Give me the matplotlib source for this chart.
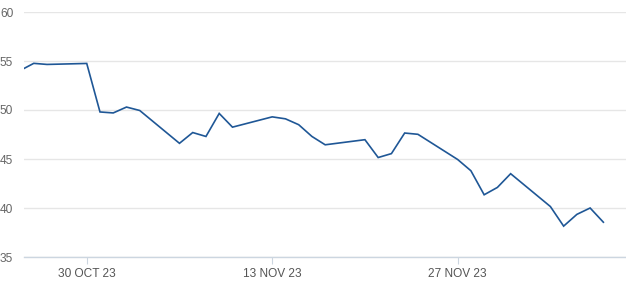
import matplotlib
matplotlib.use("Agg")
import matplotlib.pyplot as plt
import matplotlib.dates as mdates
import numpy as np
import pandas as pd

dates = ["2023-10-25", "2023-10-26", "2023-10-27", "2023-10-30", "2023-10-31",
         "2023-11-01", "2023-11-02", "2023-11-03", "2023-11-06", "2023-11-07",
         "2023-11-08", "2023-11-09", "2023-11-10", "2023-11-13", "2023-11-14",
         "2023-11-15", "2023-11-16", "2023-11-17", "2023-11-20", "2023-11-21",
         "2023-11-22", "2023-11-23", "2023-11-24", "2023-11-27", "2023-11-28",
         "2023-11-29", "2023-11-30", "2023-12-01", "2023-12-04", "2023-12-05",
         "2023-12-06", "2023-12-07", "2023-12-08"]
values = [54.05, 54.76, 54.65, 54.75, 49.8,
          49.7, 50.3, 49.95, 46.6, 47.7,
          47.3, 49.65, 48.25, 49.3, 49.1,
          48.5, 47.3, 46.45, 46.97, 45.15,
          45.55, 47.65, 47.52, 44.95, 43.8,
          41.35, 42.1, 43.5, 40.15, 38.15,
          39.35, 40.0, 38.55]
tick_dates = ["2023-10-30", "2023-11-13", "2023-11-27"]
tick_labels = ["30 OCT 23", "13 NOV 23", "27 NOV 23"]
y_ticks = [35, 40, 45, 50, 55, 60]

plt.rcParams['font.family'] = ['Liberation Sans', 'DejaVu Sans']

fig = plt.figure(figsize=(6.26, 2.86), dpi=100)
ax = fig.add_axes([24 / 626, 29 / 286, 1 - 24 / 626, 245 / 286])

x = pd.to_datetime(dates)
ax.plot(x, values, color="#1f5796", lw=1.2, solid_joinstyle="miter", clip_on=True)

ax.set_ylim(35, 60)
ax.set_yticks(y_ticks)
ax.set_xlim(pd.Timestamp("2023-10-25 06:20"), pd.Timestamp("2023-12-09 17:00"))
ax.set_xticks(pd.to_datetime(tick_dates))
ax.set_xticklabels(tick_labels)

ax.grid(axis="y", color="#e6e6e6", lw=1.0)
ax.set_axisbelow(True)
for s in ["top", "right", "left"]:
    ax.spines[s].set_visible(False)
ax.spines["bottom"].set_color("#ccd6e0")
ax.spines["bottom"].set_linewidth(1.0)

ax.tick_params(axis="y", length=0, labelsize=8.6, labelcolor="#666666")
ax.tick_params(axis="x", length=5, width=0.8, color="#ccd6e0", pad=3,
               labelsize=8.6, labelcolor="#555555")
for lab in ax.get_yticklabels():
    lab.set_horizontalalignment("left")
ax.yaxis.set_tick_params(pad=17.3)

fig.savefig("out.png", dpi=100, facecolor="white")
